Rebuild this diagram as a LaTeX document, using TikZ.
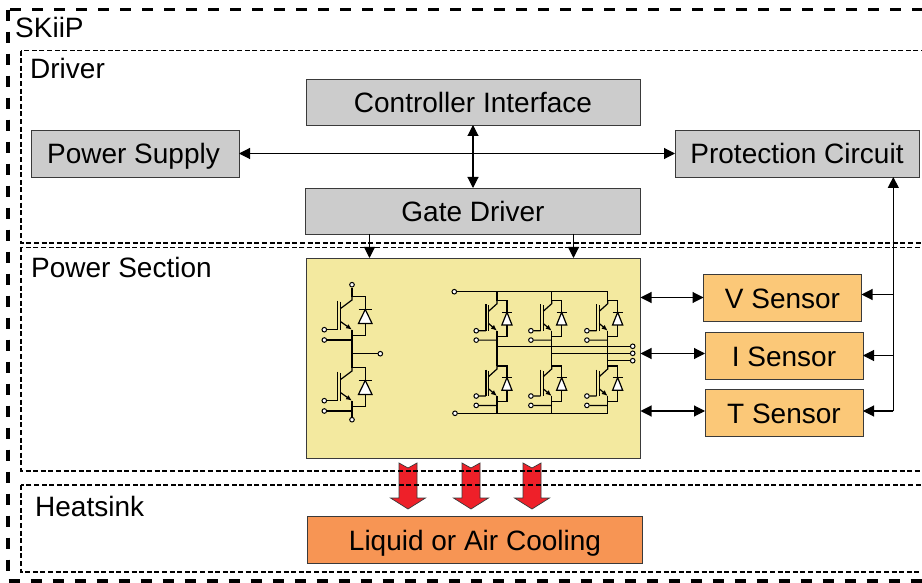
\documentclass[tikz,border=0pt]{standalone}
\usepackage{fontspec}
\setmainfont{Liberation Sans}
\usepackage{xcolor}
\usetikzlibrary{arrows.meta, positioning}
\definecolor{boxgray}{HTML}{CCCCCC}
\definecolor{edgegray}{HTML}{3A3A3A}
\definecolor{siliconyellow}{HTML}{F3E99F}
\definecolor{sensororange}{HTML}{FBC878}
\definecolor{coolorange}{HTML}{F79554}
\definecolor{heatred}{HTML}{EE2029}

\begin{document}
\begin{tikzpicture}[
  x=1pt, y=-1pt,
  block/.style={rectangle, draw=edgegray, line width=0.9pt, inner sep=0pt, outer sep=0pt,
                text=black, font=\fontsize{28}{30}\selectfont,
                text height=23pt, text depth=2pt},
  ctl/.style={block, fill=boxgray, minimum height=46pt},
  sensor/.style={block, fill=sensororange, minimum width=158pt, minimum height=47pt},
  lbl/.style={anchor=base west, inner sep=0pt, font=\fontsize{28}{30}\selectfont},
  arr/.style={-{Triangle[length=11pt,width=11pt]}, line width=1.1pt, black},
  biarr/.style={arr, {Triangle[length=11pt,width=11pt]}-{Triangle[length=11pt,width=11pt]}},
  wire/.style={line width=1.2pt, black},
  tm/.style={circle, draw=black, fill=white, line width=1pt, inner sep=0pt, minimum size=4.6pt},
  outerdash/.style={draw=black, line width=3.4pt, dash pattern=on 11pt off 11pt},
  innerdash/.style={draw=black, line width=1.4pt, dash pattern=on 5pt off 2.6pt},
  igbt/.pic={
    \coordinate (coll) at (0,0);
    \coordinate (emit) at (0,43.3);
    \draw[wire] (0,0) -- (0,3.3) -- (-11.3,11.7);
    \draw[wire] (-11.3,5) -- (-11.3,33.3);
    \draw[wire] (-14.7,4) -- (-14.7,33);
    \draw[wire, -{Latex[length=6pt,width=5pt]}] (-11.3,25) -- (0,33);
    \draw[wire] (0,33) -- (0,43.3);
    \draw[wire] (0,0) -- (13.3,0) -- (13.3,39) -- (0,39);
    \draw[wire, fill=white] (13.3,12.7) -- (6.5,26.7) -- (20,26.7) -- cycle;
    \draw[wire] (6.5,12.7) -- (20,12.7);
    \node[tm] (gt) at (-27.7,33) {};
    \node[tm] (aux) at (-27.7,43.3) {};
    \draw[wire] (gt) -- (-14.7,33);
    \draw[wire] (aux) -- (0,43.3);
  },
  heatarrow/.pic={
    \draw[fill=heatred, draw=edgegray, line width=0.7pt]
      (-9,0) -- (0,5) -- (9,0) -- (9,35) -- (17.5,35) -- (0,46) -- (-17.5,35) -- (-9,35) -- cycle;
  }
]
\useasboundingbox (0,0) rectangle (922,583);

\node[ctl, minimum width=334pt] (ctrl) at (473,102) {Controller Interface};
\node[ctl, minimum width=335pt, below=63pt of ctrl] (gate) {Gate Driver};
\node[ctl, minimum width=208pt, minimum height=47pt, below left=5pt and 67pt of ctrl.south west] (psu) {\hspace{-3pt}Power Supply};
\node[ctl, minimum width=244pt, minimum height=47pt, below right=5pt and 35pt of ctrl.south east] (prot) {Protection Circuit};
\node[block, fill=siliconyellow, minimum width=334pt, minimum height=200pt, below=24pt of gate, xshift=0.5pt] (power) {};
\node[sensor, below right=16pt and 63pt of power.north east] (vsens) {V Sensor};
\node[sensor, below=11pt of vsens, xshift=1.5pt] (isens) {I Sensor};
\node[sensor, below=10pt of isens] (tsens) {T Sensor};
\node[block, fill=coolorange, minimum width=335pt, minimum height=47pt, below=58pt of power, xshift=1.5pt] (cool) {Liquid or Air Cooling};

\coordinate (sbus) at (893.3,411);

\draw[biarr] (psu) -- (prot);
\draw[biarr] (ctrl.south) -- (gate.north);
\draw[arr] ([xshift=-103.5pt]gate.south) -- ([xshift=-104pt]power.north);
\draw[arr] ([xshift=100.5pt]gate.south) -- ([xshift=100pt]power.north);
\draw[biarr] (power.east |- vsens) -- (vsens);
\draw[biarr] ([yshift=2pt]power.east |- isens) -- ([yshift=2pt]isens.west);
\draw[biarr] ([yshift=1.5pt]power.east |- tsens) -- ([yshift=1.5pt]tsens.west);
\draw[arr] (sbus) -- (sbus |- prot.south);
\draw[arr] ([yshift=3pt]sbus |- vsens) -- ([yshift=3pt]vsens.east);
\draw[arr] (sbus |- isens) -- (isens);
\draw[arr] (sbus) -- ([yshift=1.5pt]tsens.east);

\pic (qt) at (352,296.7) {igbt};
\pic (qb) at (352,367.7) {igbt};
\node[tm] (qtop) at (352,284.7) {};
\node[tm] (qbot) at (352,419.7) {};
\node[tm] (qout) at (380.3,353.7) {};
\coordinate (qmid) at (352,353.7);
\draw[wire] (qtop) -- (qtcoll);
\draw[wire] (qtemit) -- (qbcoll);
\draw[wire] (qbemit) -- (qbot);
\draw[wire] (qmid) -- (qout);

\pic[xscale=.75, yscale=.91] (ua) at (497,300.7) {igbt};
\pic[xscale=.75, yscale=.91] (ub) at (551.7,300.7) {igbt};
\pic[xscale=.75, yscale=.91] (uc) at (607.7,300.7) {igbt};
\pic[xscale=.75, yscale=.91] (la) at (497,366) {igbt};
\pic[xscale=.75, yscale=.91] (lb) at (551.7,366) {igbt};
\pic[xscale=.75, yscale=.91] (lc) at (607.7,366) {igbt};
\node[tm] (dcp) at (454.3,291.7) {};
\node[tm] (dcn) at (455,413.3) {};
\node[tm] (outa) at (632.7,346.3) {};
\node[tm] (outb) at (632.7,353.3) {};
\node[tm] (outc) at (632.7,360.7) {};
\draw[wire] (dcp) -- (uccoll |- dcp) -- (uccoll);
\draw[wire] (uacoll |- dcp) -- (uacoll);
\draw[wire] (ubcoll |- dcp) -- (ubcoll);
\draw[wire] (dcn) -- (lcemit |- dcn) -- (lcemit);
\draw[wire] (laemit |- dcn) -- (laemit);
\draw[wire] (lbemit |- dcn) -- (lbemit);
\draw[wire] (uaemit) -- (lacoll);
\draw[wire] (ubemit) -- (lbcoll);
\draw[wire] (ucemit) -- (lccoll);
\draw[wire] (uaemit |- outa) -- (outa);
\draw[wire] (ubemit |- outb) -- (outb);
\draw[wire] (ucemit |- outc) -- (outc);

\pic (hta) at (408,463) {heatarrow};
\pic (htb) at (471,463) {heatarrow};
\pic (htc) at (532,463) {heatarrow};

\draw[innerdash] (21,50.7) rectangle (950,243);
\draw[innerdash] (21,247.5) rectangle (950,471);
\draw[innerdash] (21,485) rectangle (950,572);
\draw[outerdash] (8,9.7) rectangle (950,581);

\node[lbl] (skiip) at (15,38) {SKiiP};
\node[lbl] (drv) at (30,79) {Driver};
\node[lbl] (pwr) at (31,277) {Power Section};
\node[lbl] (sink) at (35,516) {Heatsink};
\end{tikzpicture}
\end{document}
